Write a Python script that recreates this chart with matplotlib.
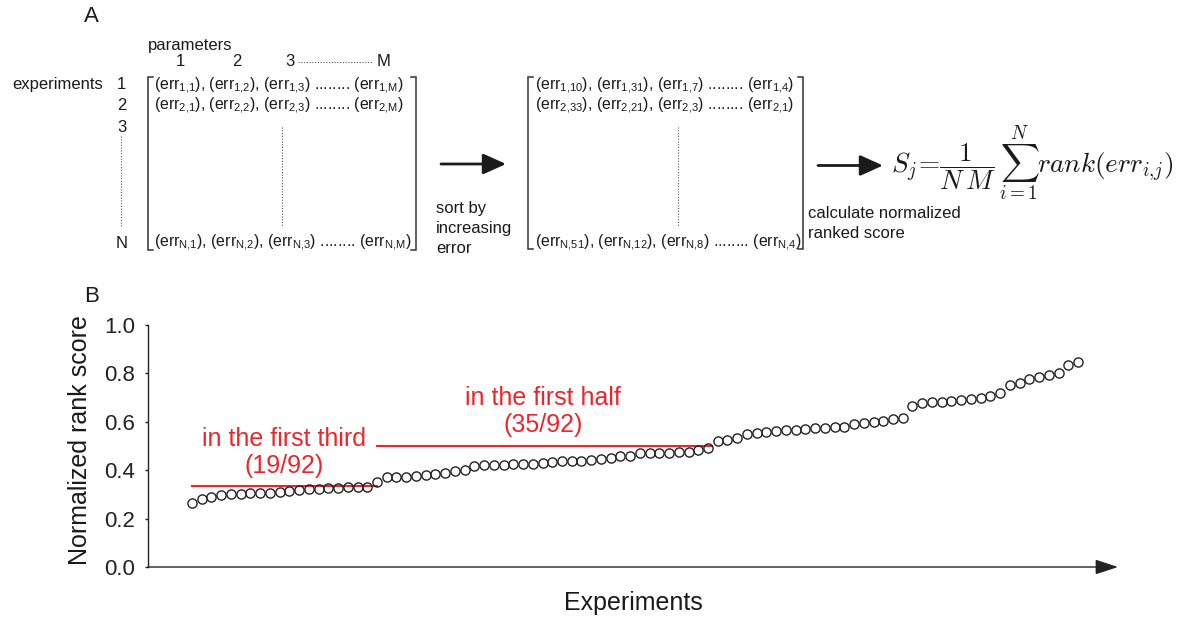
import matplotlib
matplotlib.use('Agg')
import matplotlib.pyplot as plt
import numpy as np

plt.rcParams['font.family'] = ['Liberation Sans', 'DejaVu Sans']
plt.rcParams['mathtext.fontset'] = 'custom'
plt.rcParams['mathtext.rm'] = 'Liberation Sans'
plt.rcParams['mathtext.it'] = 'Liberation Sans:italic'
plt.rcParams['mathtext.bf'] = 'Liberation Sans:bold'

# ---------------- data (panel B) ----------------
scores = [0.263, 0.279, 0.290, 0.297, 0.301, 0.302, 0.304, 0.305, 0.306, 0.309,
          0.314, 0.317, 0.321, 0.322, 0.325, 0.326, 0.329, 0.330, 0.331, 0.350,
          0.370, 0.372, 0.373, 0.376, 0.379, 0.383, 0.388, 0.395, 0.402, 0.417,
          0.421, 0.422, 0.423, 0.424, 0.425, 0.426, 0.431, 0.434, 0.436, 0.437,
          0.439, 0.444, 0.448, 0.451, 0.457, 0.458, 0.471, 0.473, 0.473, 0.473,
          0.474, 0.477, 0.483, 0.492, 0.520, 0.524, 0.535, 0.548, 0.552, 0.558,
          0.562, 0.565, 0.568, 0.570, 0.573, 0.576, 0.577, 0.580, 0.589, 0.596,
          0.598, 0.604, 0.610, 0.616, 0.665, 0.678, 0.680, 0.683, 0.687, 0.690,
          0.694, 0.699, 0.705, 0.721, 0.754, 0.761, 0.776, 0.786, 0.793, 0.803,
          0.834, 0.846]
experiments = np.arange(len(scores))

third_level = 1 / 3
half_level = 1 / 2
third_span = [0, 19]
half_span = [19, 53.4]
third_label = "in the first third\n(19/92)"
half_label = "in the first half\n(35/92)"

yticks = [0.0, 0.2, 0.4, 0.6, 0.8, 1.0]
ytick_labels = ['0.0', '0.2', '0.4', '0.6', '0.8', '1.0']

# ---------------- panel A text ----------------
matrix1_rows = [["1{,}1", "1{,}2", "1{,}3", r"1{,}\mathrm{M}"],
                ["2{,}1", "2{,}2", "2{,}3", r"2{,}\mathrm{M}"],
                [r"\mathrm{N}{,}1", r"\mathrm{N}{,}2", r"\mathrm{N}{,}3", r"\mathrm{N}{,}\mathrm{M}"]]
matrix2_rows = [["1{,}10", "1{,}31", "1{,}7", "1{,}4"],
                ["2{,}33", "2{,}21", "2{,}3", "2{,}1"],
                [r"\mathrm{N}{,}51", r"\mathrm{N}{,}12", r"\mathrm{N}{,}8", r"\mathrm{N}{,}4"]]


def row_text(subs):
    a, b, c, d = subs
    return ("(err$_{%s}$), (err$_{%s}$), (err$_{%s}$) ........ (err$_{%s}$)"
            % (a, b, c, d))


W, H = 1183, 620
fig = plt.figure(figsize=(W / 100, H / 100), dpi=100)
fig.patch.set_facecolor('white')

ov = fig.add_axes([0, 0, 1, 1])
ov.set_xlim(0, W)
ov.set_ylim(H, 0)
ov.axis('off')

ink = '#1a1a1a'
grey = '#555555'
fs_small = 12
fs_row = 11.4

ov.text(91, 16, 'A', fontsize=16, ha='center', va='center', color=ink)
ov.text(92, 297, 'B', fontsize=16, ha='center', va='center', color=ink)

# headers
ov.text(148, 50, 'parameters', fontsize=fs_small, ha='left', va='baseline', color=ink)
for lab, x in zip(['1', '2', '3'], [180, 237, 290]):
    ov.text(x, 66.5, lab, fontsize=fs_small, ha='center', va='baseline', color=ink)
ov.text(384, 66.5, 'M', fontsize=fs_small, ha='center', va='baseline', color=ink)
ov.plot([298, 373], [61.5, 61.5], color=grey, lw=0.8, ls=(0, (1, 1.5)))

ov.text(12, 89, 'experiments', fontsize=fs_small, ha='left', va='baseline', color=ink)
for lab, y in zip(['1', '2', '3', 'N'], [89, 110, 131.5, 248]):
    ov.text(121.5, y, lab, fontsize=fs_small, ha='center', va='baseline', color=ink)
ov.plot([121.5, 121.5], [136, 227], color=grey, lw=0.8, ls=(0, (1, 1.5)))

row_baselines = [89.5, 110, 246.5]


def bracket(xl, xr, yt, yb):
    for x, d in [(xl, 5), (xr, -5)]:
        ov.plot([x + d, x, x, x + d], [yt, yt, yb, yb], color='#333333', lw=1.1,
                solid_joinstyle='miter')


# matrix 1
bracket(148.5, 416.5, 77, 250)
for subs, yb in zip(matrix1_rows, row_baselines):
    ov.text(154, yb, row_text(subs), fontsize=fs_row, ha='left', va='baseline', color=ink)
ov.plot([282.5, 282.5], [127, 227], color=grey, lw=0.8, ls=(0, (1, 1.5)))

# arrow 1
ov.annotate('', xy=(506, 164), xytext=(441, 164),
            arrowprops=dict(arrowstyle='-|>,head_length=1.0,head_width=0.45',
                            mutation_scale=14, lw=2.0, color=ink,
                            shrinkA=0, shrinkB=0))
for txt, yb in zip(['sort by', 'increasing', 'error'], [213, 233, 253]):
    ov.text(436, yb, txt, fontsize=fs_small, ha='left', va='baseline', color=ink)

# matrix 2
bracket(528.5, 803, 77, 249)
for subs, yb in zip(matrix2_rows, row_baselines):
    ov.text(535, yb, row_text(subs), fontsize=fs_row, ha='left', va='baseline', color=ink)
ov.plot([678, 678], [127, 227], color=grey, lw=0.8, ls=(0, (1, 1.5)))

# arrow 2
ov.annotate('', xy=(883, 165.5), xytext=(818, 165.5),
            arrowprops=dict(arrowstyle='-|>,head_length=1.0,head_width=0.45',
                            mutation_scale=14, lw=2.0, color=ink,
                            shrinkA=0, shrinkB=0))
for txt, yb in zip(['calculate normalized', 'ranked score'], [218.5, 237.5]):
    ov.text(808, yb, txt, fontsize=fs_small, ha='left', va='baseline', color=ink)

ov.text(891, 173, r'$S_j\!=\!\dfrac{1}{N\,M}\,\sum_{i=1}^{N}rank(err_{i{,}j})$',
        fontsize=19.6, math_fontfamily='cm', ha='left', va='baseline', color=ink)

# ---------------- panel B ----------------
red = '#e8282d'
ax = fig.add_axes([148 / W, (H - 567) / H, 970 / W, 242 / H])
ax.patch.set_alpha(0)

ax.plot(experiments, scores, 'o', mfc='none', mec='#222222', ms=6.6, mew=1.0,
        clip_on=False, zorder=3)
ax.plot(third_span, [third_level, third_level], color=red, lw=1.5, zorder=2)
ax.plot(half_span, [half_level, half_level], color=red, lw=1.5, zorder=2)
ax.text(9.45, 0.4725, third_label, ha='center', va='center', color=red,
        fontsize=18, linespacing=1.15)
ax.text(36.05, 0.642, half_label, ha='center', va='center', color=red,
        fontsize=18, linespacing=1.15)

ax.set_xlim(-4.52, 95.11)
ax.set_ylim(0, 1)
for s in ['top', 'right', 'bottom']:
    ax.spines[s].set_visible(False)
ax.spines['left'].set_linewidth(1.0)
ax.spines['left'].set_color('#222222')
ax.set_xticks([])
ax.set_yticks(yticks)
ax.set_yticklabels(ytick_labels)
ax.tick_params(axis='y', direction='out', length=2.5, width=1.0, pad=7,
               labelsize=16, colors='#222222')
ax.annotate('', xy=(1, 0), xytext=(0, 0), xycoords='axes fraction',
            arrowprops=dict(arrowstyle='-|>,head_length=0.7,head_width=0.23',
                            mutation_scale=20, lw=1.0, color='#222222',
                            shrinkA=0, shrinkB=0))

ax.set_ylabel('Normalized rank score', fontsize=18, color=ink)
ax.yaxis.set_label_coords(-0.058, 0.525)
ax.set_xlabel('Experiments', fontsize=18, color=ink)
ax.xaxis.set_label_coords(0.5, -0.1)

fig.savefig('out.png', dpi=100, facecolor='white')
